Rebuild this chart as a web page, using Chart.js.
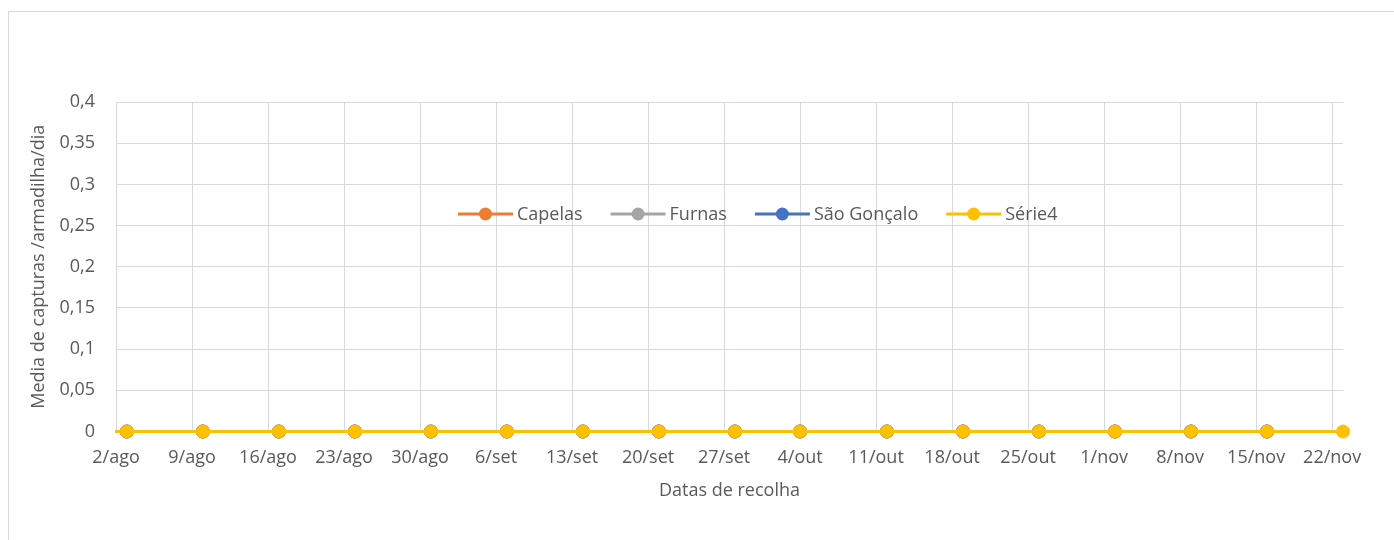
<!DOCTYPE html>
<html>
<head>
<meta charset="utf-8">
<script src="https://cdn.jsdelivr.net/npm/chart.js@4/dist/chart.umd.min.js"></script>
<style>
  body { margin: 0; background: #fff; }
  canvas { display: block; }
</style>
</head>
<body>
<canvas id="myChart" width="1394" height="540"></canvas>
<script>
// datas de recolha (dia/mês)
const xTicks = ['2/ago', '9/ago', '16/ago', '23/ago', '30/ago', '6/set', '13/set', '20/set', '27/set',
    '4/out', '11/out', '18/out', '25/out', '1/nov', '8/nov', '15/nov', '22/nov'];
const datas = ['3/ago', '10/ago', '17/ago', '24/ago', '31/ago', '7/set', '14/set', '21/set', '28/set',
    '4/out', '12/out', '19/out', '26/out', '2/nov', '9/nov', '16/nov'];
const datasSerie4 = datas.concat(['23/nov']);
const axisEnd = '23/nov';

const capelas    = [0, 0, 0, 0, 0, 0, 0, 0, 0, 0, 0, 0, 0, 0, 0, 0];
const furnas     = [0, 0, 0, 0, 0, 0, 0, 0, 0, 0, 0, 0, 0, 0, 0, 0];
const saoGoncalo = [0, 0, 0, 0, 0, 0, 0, 0, 0, 0, 0, 0, 0, 0, 0, 0];
const serie4     = [0, 0, 0, 0, 0, 0, 0, 0, 0, 0, 0, 0, 0, 0, 0, 0, 0];

// dias contados a partir de 2/ago
const meses = { ago: 7, set: 8, out: 9, nov: 10 };
function dia(s) {
    const p = s.split('/');
    return (Date.UTC(2019, meses[p[1]], +p[0]) - Date.UTC(2019, 7, 2)) / 864e5;
}
function pontos(ds, vals) {
    return vals.map((v, i) => ({ x: dia(ds[i]), y: v }));
}

function serie(label, color, ds, vals, order) {
    return {
        label: label,
        data: pontos(ds, vals),
        borderColor: color,
        backgroundColor: color,
        borderWidth: 3,
        pointRadius: 6.5,
        pointBorderWidth: 1,
        pointBorderColor: color,
        pointBackgroundColor: color,
        clip: false,
        order: order
    };
}

// legenda dentro da área do gráfico
const legendaPlugin = {
    id: 'legenda',
    afterDatasetsDraw(chart) {
        const c = chart.ctx;
        let x = 458;
        const y = 214;
        c.save();
        c.font = "18px 'Open Sans'";
        c.textBaseline = 'middle';
        chart.data.datasets.forEach(d => {
            c.strokeStyle = d.borderColor;
            c.lineWidth = 3;
            c.beginPath();
            c.moveTo(x, y);
            c.lineTo(x + 55, y);
            c.stroke();
            c.fillStyle = d.borderColor;
            c.beginPath();
            c.arc(x + 27.5, y, 6.5, 0, Math.PI * 2);
            c.fill();
            c.fillStyle = '#595959';
            c.fillText(d.label, x + 59, y + 1);
            x += 59 + c.measureText(d.label).width + 28;
        });
        c.restore();
    }
};

const moldura = {
    id: 'moldura',
    beforeDraw(chart) {
        const c = chart.ctx;
        c.save();
        c.strokeStyle = '#D9D9D9';
        c.lineWidth = 1;
        c.strokeRect(8.5, 11.5, 1500, 600);
        c.restore();
    }
};

Chart.defaults.font.family = "'Open Sans'";
Chart.defaults.font.size = 18;
Chart.defaults.color = '#595959';

const ctx = document.getElementById('myChart').getContext('2d');
const myChart = new Chart(ctx, {
    type: 'line',
    data: {
        datasets: [
            serie('Capelas', '#ED7D31', datas, capelas, 4),
            serie('Furnas', '#A5A5A5', datas, furnas, 3),
            serie('São Gonçalo', '#4472C4', datas, saoGoncalo, 2),
            serie('Série4', '#FFC000', datasSerie4, serie4, 1)
        ]
    },
    options: {
        responsive: false,
        animation: false,
        devicePixelRatio: 1,
        layout: {
            padding: { left: 28, top: 102, right: 51, bottom: 0 }
        },
        scales: {
            x: {
                type: 'linear',
                min: 0,
                max: dia(axisEnd),
                afterBuildTicks: s => { s.ticks = xTicks.map(t => ({ value: dia(t) })); },
                afterFit: s => { s.height = 108.5; },
                grid: { color: '#D9D9D9', drawTicks: false },
                border: { display: true, color: '#FFC000', width: 3 },
                ticks: {
                    padding: 16,
                    maxRotation: 0,
                    autoSkip: false,
                    callback: (v, i) => xTicks[i]
                },
                title: {
                    display: true,
                    text: 'Datas de recolha',
                    padding: { top: 0, bottom: 38 }
                }
            },
            y: {
                min: 0,
                max: 0.4,
                afterFit: s => { s.width = 88; },
                grid: { color: '#D9D9D9', drawTicks: false },
                border: { display: false },
                ticks: {
                    stepSize: 0.05,
                    padding: 21,
                    callback: v => String(+v.toFixed(2)).replace('.', ',')
                },
                title: {
                    display: true,
                    text: 'Media de capturas /armadilha/dia',
                    padding: 0
                }
            }
        },
        plugins: {
            legend: { display: false },
            tooltip: { enabled: false }
        }
    },
    plugins: [moldura, legendaPlugin]
});
</script>
</body>
</html>
